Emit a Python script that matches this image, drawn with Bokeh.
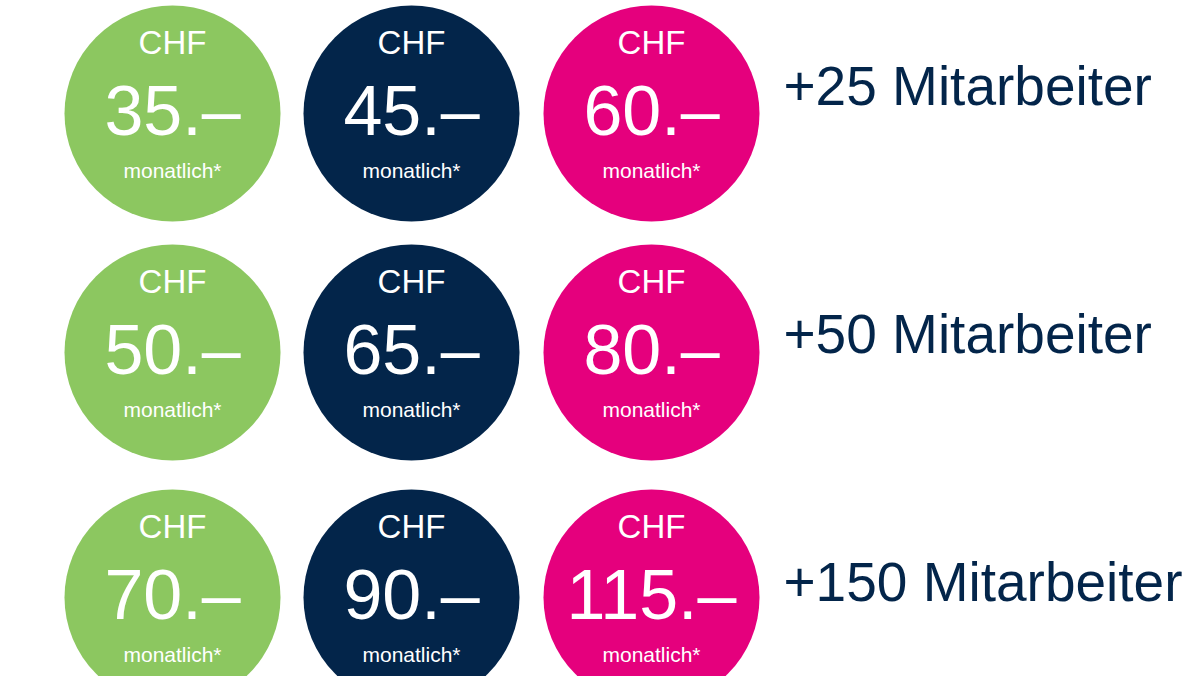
from bokeh.plotting import figure
from bokeh.models import Range1d, ColumnDataSource
from bokeh.core.properties import value
from bokeh.embed import file_html
from bokeh.resources import INLINE

# ---- data ----
tiers = ["+25 Mitarbeiter", "+50 Mitarbeiter", "+150 Mitarbeiter"]
plan_green = [35, 50, 70]
plan_navy = [45, 65, 90]
plan_pink = [60, 80, 115]
currency = "CHF"
period = "monatlich*"

# ---- styles / layout ----
GREEN = "#8CC760"
NAVY = "#03254A"
PINK = "#E5007D"
FONT = value("Liberation Sans")

W, H = 1187, 676
col_x = [172, 411, 651]
row_y = [113, 352, 597]
label_y = [107, 355, 603]
label_x = 783
R = 108

p = figure(width=W, height=H, output_backend="svg", toolbar_location=None,
           x_range=Range1d(0, W), y_range=Range1d(H, 0),
           min_border=0, outline_line_color=None, background_fill_color="white",
           border_fill_color="white")
p.axis.visible = False
p.grid.visible = False

plans = [(plan_green, GREEN), (plan_navy, NAVY), (plan_pink, PINK)]
xs, ys, cols, prices = [], [], [], []
for ci, (vals, col) in enumerate(plans):
    for ri, v in enumerate(vals):
        xs.append(col_x[ci])
        ys.append(row_y[ri])
        cols.append(col)
        prices.append(f"{v}.\u2013")

src = ColumnDataSource(dict(x=xs, y=ys, c=cols, price=prices,
                            cur=[currency] * len(xs), per=[period] * len(xs)))

p.circle(x="x", y="y", radius=R, fill_color="c", line_color=None, source=src)

p.text(x="x", y="y", text="cur", source=src, y_offset=-71, text_align="center",
       text_baseline="alphabetic", text_color="white", text_font=FONT,
       text_font_size="33px")
p.text(x="x", y="y", text="price", source=src, y_offset=-3, text_align="center",
       text_baseline="alphabetic", text_color="white", text_font=FONT,
       text_font_size="70px")
p.text(x="x", y="y", text="per", source=src, y_offset=57, text_align="center",
       text_baseline="alphabetic", text_color="white", text_font=FONT,
       text_font_size="21px")

lsrc = ColumnDataSource(dict(x=[label_x] * len(tiers), y=label_y, t=tiers))
p.text(x="x", y="y", text="t", source=lsrc, y_offset=-22, text_align="left",
       text_baseline="alphabetic", text_color=NAVY, text_font=FONT,
       text_font_size="55px")

open("out.html", "w").write(file_html(p, INLINE))
